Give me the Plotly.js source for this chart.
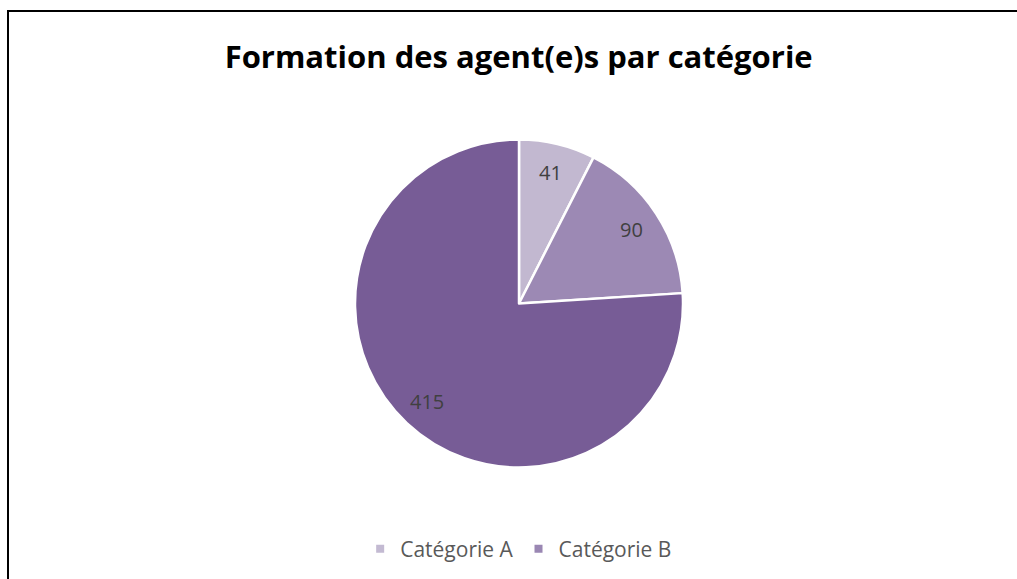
<!DOCTYPE html>
<html>
<head>
<meta charset="utf-8">
<script src="https://cdn.plot.ly/plotly-3.0.1.min.js"></script>
<style>
html,body{margin:0;padding:0;background:#fff;overflow:hidden;}
#wrap{position:relative;width:1017px;height:579px;overflow:hidden;}
#chart{width:1017px;height:579px;}
#frame{position:absolute;left:7px;top:10px;width:1100px;height:700px;border-left:2px solid #000;border-top:2px solid #000;pointer-events:none;}
</style>
</head>
<body>
<div id="wrap">
<div id="chart"></div>
<div id="frame"></div>
</div>
<script>
const chartTitle = 'Formation des agent(e)s par catégorie';
const categories = ['Catégorie A', 'Catégorie B', 'Catégorie C'];
const values = [41, 90, 415];
const sliceColors = ['#C2B8D0', '#9C89B4', '#775C96'];
const legendCategories = ['Catégorie A', 'Catégorie B'];
const legendColors = ['#C3BAD2', '#9A87B3'];

const W = 1017, H = 579;
const cx = 519, cy = 303.5, R = 164;
const labelRadius = 0.82;

const traces = [{
  type: 'pie',
  labels: categories,
  values: values,
  sort: false,
  direction: 'clockwise',
  rotation: 0,
  marker: {colors: sliceColors, line: {color: '#FFFFFF', width: 2.5}},
  textinfo: 'none',
  hoverinfo: 'label+value',
  showlegend: false,
  domain: {x: [(cx - R) / W, (cx + R) / W], y: [1 - (cy + R) / H, 1 - (cy - R) / H]}
}];

legendCategories.forEach((name, i) => {
  traces.push({
    type: 'scatter', mode: 'markers', x: [null], y: [null], name: name,
    marker: {symbol: 'square', size: 8, color: legendColors[i]},
    showlegend: true, hoverinfo: 'skip'
  });
});

// data labels placed on each slice's bisector, derived from the values
const total = values.reduce((a, b) => a + b, 0);
let cum = 0;
const annotations = values.map(v => {
  const mid = (cum + v / 2) / total * 2 * Math.PI;
  cum += v;
  const px = cx + labelRadius * R * Math.sin(mid);
  const py = cy - labelRadius * R * Math.cos(mid);
  return {
    xref: 'paper', yref: 'paper', x: px / W, y: 1 - py / H,
    xanchor: 'center', yanchor: 'middle', showarrow: false,
    text: String(v),
    font: {family: 'Open Sans, sans-serif', size: 20, color: '#404040'}
  };
});

const layout = {
  width: W, height: H,
  margin: {l: 0, r: 0, t: 0, b: 0},
  paper_bgcolor: 'rgba(0,0,0,0)', plot_bgcolor: 'rgba(0,0,0,0)',
  title: {
    text: '<b>' + chartTitle + '</b>',
    font: {family: 'Open Sans, sans-serif', size: 31, color: '#000000'},
    x: 0.51, xanchor: 'center', y: 1 - 57 / H, yanchor: 'middle'
  },
  xaxis: {visible: false, fixedrange: true},
  yaxis: {visible: false, fixedrange: true},
  showlegend: true,
  legend: {
    orientation: 'h', x: 0.51, xanchor: 'center', y: 1 - 549 / H, yanchor: 'middle',
    font: {family: 'Open Sans, sans-serif', size: 21, color: '#595959'},
    bgcolor: 'rgba(0,0,0,0)',
    itemclick: false, itemdoubleclick: false
  },
  annotations: annotations
};

Plotly.newPlot('chart', traces, layout, {displayModeBar: false, staticPlot: true});
</script>
</body>
</html>
